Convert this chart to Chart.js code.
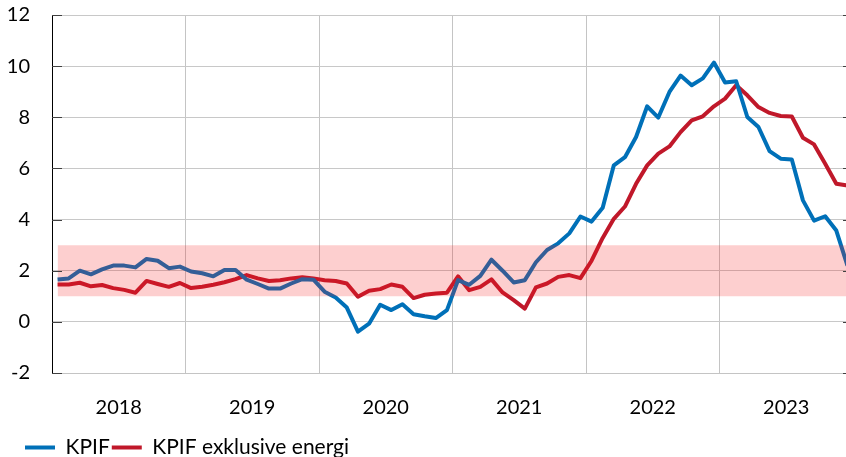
<!DOCTYPE html>
<html>
<head>
<meta charset="utf-8">
<script src="https://cdn.jsdelivr.net/npm/chart.js@4"></script>
<style>
  html, body { margin: 0; padding: 0; overflow: hidden; background: #fff; }
  canvas { display: block; }
</style>
</head>
<body>
<canvas id="kpifChart" width="854" height="468"></canvas>
<script>
// KPIF, annual change in percent, monthly Jan 2018 - Dec 2023
const years = ['2018', '2019', '2020', '2021', '2022', '2023'];

const kpif = [
    1.66, 1.70, 2.00, 1.86, 2.05, 2.20, 2.20, 2.13, 2.46, 2.39, 2.10, 2.16,
    1.97, 1.90, 1.78, 2.03, 2.03, 1.65, 1.48, 1.30, 1.30, 1.50, 1.67, 1.65,
    1.18, 0.95, 0.56, -0.38, -0.07, 0.67, 0.46, 0.69, 0.30, 0.22, 0.15, 0.46,
    1.63, 1.45, 1.80, 2.43, 2.00, 1.54, 1.63, 2.33, 2.81, 3.07, 3.46, 4.12,
    3.92, 4.46, 6.12, 6.44, 7.23, 8.43, 7.99, 8.99, 9.63, 9.25, 9.52, 10.14,
    9.36, 9.41, 8.01, 7.62, 6.68, 6.38, 6.35, 4.75, 3.96, 4.13, 3.57, 2.20
];

const kpifExEnergy = [
    1.46, 1.46, 1.53, 1.39, 1.44, 1.32, 1.25, 1.14, 1.60, 1.48, 1.37, 1.52,
    1.32, 1.37, 1.45, 1.55, 1.67, 1.83, 1.70, 1.60, 1.63, 1.70, 1.74, 1.70,
    1.63, 1.60, 1.50, 0.98, 1.22, 1.28, 1.46, 1.37, 0.93, 1.06, 1.11, 1.14,
    1.78, 1.24, 1.37, 1.66, 1.15, 0.85, 0.52, 1.35, 1.50, 1.76, 1.83, 1.71,
    2.39, 3.28, 4.03, 4.51, 5.40, 6.12, 6.58, 6.86, 7.42, 7.88, 8.04, 8.43,
    8.73, 9.25, 8.86, 8.40, 8.17, 8.05, 8.03, 7.20, 6.94, 6.18, 5.40, 5.33
];

// tolerance band around the 2 % target
const targetBand = [1, 3];

const yTicks = [-2, 0, 2, 4, 6, 8, 10, 12];

const toPoints = arr => arr.map((v, i) => ({ x: i, y: v }));
const lastIdx = kpif.length - 1;

Chart.defaults.font.family = 'Lato';
Chart.defaults.font.size = 20;
Chart.defaults.color = '#000';

// inward tick marks on the y axis (Excel style)
const innerTicks = {
    id: 'innerTicks',
    afterDraw(chart) {
        const { ctx, chartArea, scales } = chart;
        ctx.save();
        ctx.strokeStyle = '#404040';
        ctx.lineWidth = 1;
        scales.y.ticks.forEach(t => {
            const py = Math.round(scales.y.getPixelForValue(t.value)) + 0.5;
            ctx.beginPath();
            ctx.moveTo(chartArea.left, py);
            ctx.lineTo(chartArea.left + 10, py);
            ctx.moveTo(chartArea.right - 10, py);
            ctx.lineTo(chartArea.right, py);
            ctx.stroke();
        });
        ctx.restore();
    }
};

// push the legend a bit in from the left edge
const legendShift = {
    id: 'legendShift',
    afterLayout(chart) {
        chart.legend.left += 23;
    }
};

const ctx = document.getElementById('kpifChart').getContext('2d');
new Chart(ctx, {
    type: 'line',
    data: {
        datasets: [{
            label: 'KPIF',
            data: toPoints(kpif),
            borderColor: '#0070b8',
            backgroundColor: '#0070b8',
            borderWidth: 4,
            pointRadius: 0,
            borderJoinStyle: 'round',
            order: 1
        }, {
            label: 'KPIF exklusive energi',
            data: toPoints(kpifExEnergy),
            borderColor: '#c0182a',
            backgroundColor: '#c0182a',
            borderWidth: 4,
            pointRadius: 0,
            borderJoinStyle: 'round',
            order: 1
        }, {
            label: 'band upper',
            data: [{ x: 0, y: targetBand[1] }, { x: lastIdx, y: targetBand[1] }],
            borderWidth: 0,
            pointRadius: 0,
            fill: '+1',
            backgroundColor: 'rgba(245, 28, 28, 0.21)',
            order: 0
        }, {
            label: 'band lower',
            data: [{ x: 0, y: targetBand[0] }, { x: lastIdx, y: targetBand[0] }],
            borderWidth: 0,
            pointRadius: 0,
            fill: false,
            order: 0
        }]
    },
    options: {
        responsive: false,
        animation: false,
        layout: { autoPadding: false, padding: { left: 0, top: 0, right: 1, bottom: 0 } },
        scales: {
            x: {
                type: 'linear',
                min: -0.5,
                max: 71.5,
                afterBuildTicks: scale => {
                    const t = [];
                    years.forEach((y, k) => {
                        t.push({ value: k * 12 + 5.5 });
                        if (k < years.length - 1) t.push({ value: k * 12 + 11.5 });
                    });
                    scale.ticks = t;
                },
                afterFit: scale => { scale.height = 62; },
                grid: {
                    drawTicks: false,
                    color: c => (c.tick && (c.tick.value + 0.5) % 12 === 0) ? '#c4c4c4' : 'rgba(0,0,0,0)'
                },
                border: { color: '#c4c4c4' },
                ticks: {
                    autoSkip: false,
                    maxRotation: 0,
                    padding: 23,
                    callback: v => ((v - 5.5) % 12 === 0) ? years[(v - 5.5) / 12] : ''
                }
            },
            y: {
                min: -2,
                max: 12,
                afterBuildTicks: scale => { scale.ticks = yTicks.map(v => ({ value: v })); },
                afterFit: scale => { scale.width = 52; },
                grid: { color: '#c8c8c8', tickLength: 19, tickColor: 'rgba(0,0,0,0)' },
                border: { color: '#000' },
                ticks: { padding: 3 }
            }
        },
        plugins: {
            legend: {
                position: 'bottom',
                align: 'start',
                labels: {
                    boxWidth: 30,
                    boxHeight: 4,
                    padding: 2,
                    font: { size: 21 },
                    generateLabels: chart => Chart.defaults.plugins.legend.labels.generateLabels(chart)
                        .filter(l => l.datasetIndex < 2)
                        .map(l => ({ ...l, lineWidth: 0 }))
                }
            },
            tooltip: { enabled: false }
        }
    },
    plugins: [innerTicks, legendShift]
});
</script>
</body>
</html>
